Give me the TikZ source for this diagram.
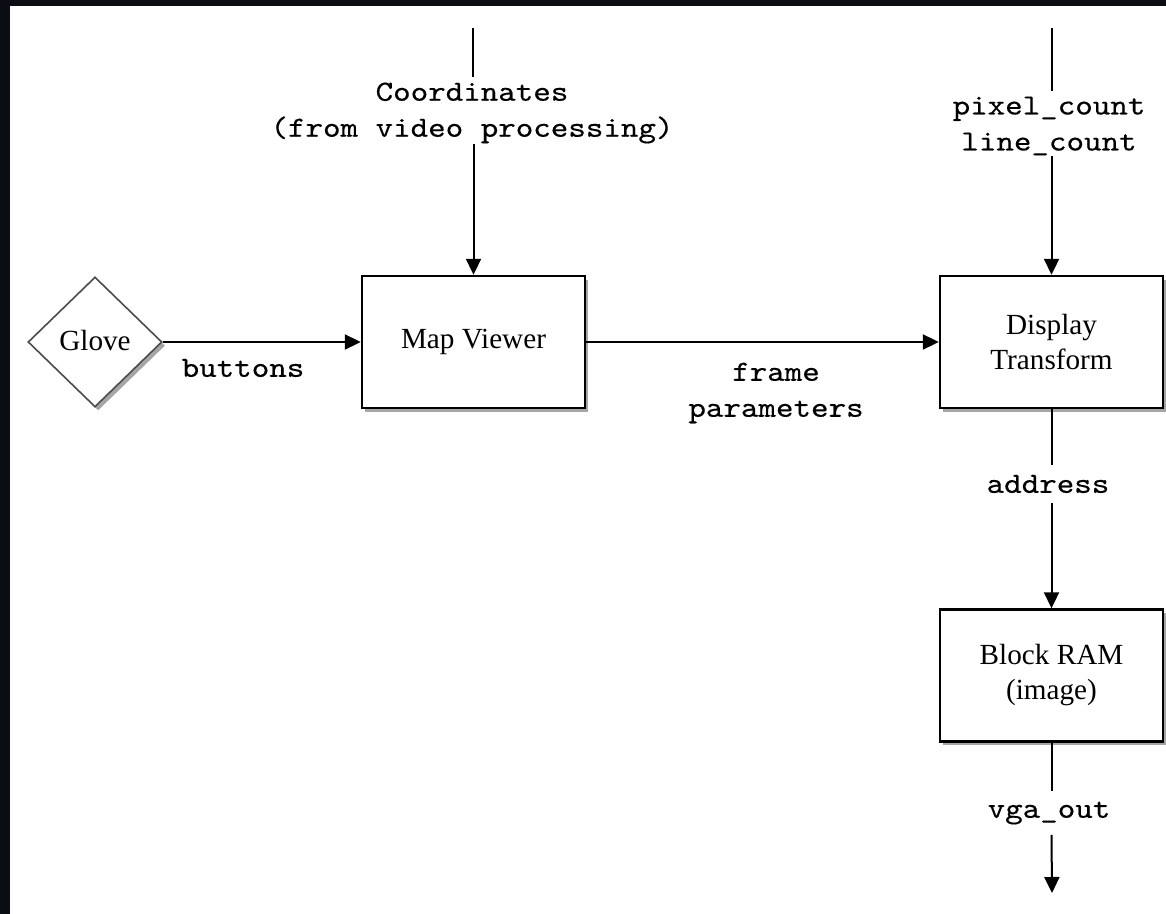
\documentclass[tikz,border=0pt]{standalone}
\usepackage{fontspec}
\setmainfont{Liberation Serif}
\newfontfamily\dgmono{lmmono10-regular.otf}[FakeStretch=1.143,FakeBold=0.4]
\usetikzlibrary{arrows.meta,shapes.geometric,shadows}
\definecolor{edgeframe}{RGB}{10,14,20}
\newcommand{\dgboxfont}{\fontsize{14.6}{17.5}\selectfont}
\newcommand{\dglblfont}{\dgmono\fontsize{14.6}{18}\selectfont}
\begin{document}
\begin{tikzpicture}[x=0.5pt,y=-0.5pt,
  softshadow/.style={drop shadow={shadow xshift=1.6pt,shadow yshift=-1.8pt,opacity=0.35,fill=black}},
  box/.style={draw=black,line width=1.2pt,fill=white,minimum width=111.5pt,minimum height=66pt,
    align=center,font=\dgboxfont,softshadow},
  lbl/.style={font=\dglblfont,align=center,inner sep=5pt},
  conn/.style={line width=1pt,draw=black},
  arr/.style={conn,-{Triangle[length=8pt,width=7.5pt]}}]
\fill[edgeframe] (0,0) rectangle (1166,914);
\fill[white] (10,6) rectangle (1166,914);
\useasboundingbox (0,0) rectangle (1166,914);

\node[diamond,draw=black!70,line width=0.8pt,fill=white,minimum width=67pt,minimum height=65pt,
  inner sep=0pt,font=\dgboxfont,softshadow] (glove) at (95,342) {\raisebox{2pt}{Glove}};
\node[box] (map) at (473.5,342) {Map Viewer};
\node[box] (disp) at (1051.5,342) {Display\\Transform};
\node[box] (bram) at (1051.5,675.5) {Block RAM\\(image)};

\node[lbl,inner sep=2.5pt] (coord) at (472,113) {Coordinates\\(from video processing)};
\node[lbl,inner sep=2.5pt] (pix) at (1049,126) {pixel\_count\\line\_count};
\node[lbl] (addr) at (1048,484) {address};
\node[lbl] (vga) at (1049,813) {vga\_out};
\node[lbl,inner sep=0pt] (btn) at (243,368) {buttons};
\node[lbl,inner sep=0pt] (frm) at (776,393) {frame\\parameters};

\coordinate (ctop) at (473,28);
\coordinate (ptop) at (1052,28);
\coordinate (vend) at (1052,893);

\draw[conn] (ctop) -- (ctop |- coord.north);
\draw[arr] ([yshift=2.5pt]map.north |- coord.south) -- (map.north);
\draw[conn] (ptop) -- (ptop |- pix.north);
\draw[arr] ([yshift=2.5pt]disp.north |- pix.south) -- (disp.north);
\draw[conn] (disp.south) -- (disp.south |- addr.north);
\draw[arr] (disp.south |- addr.south) -- (bram.north);
\draw[conn] (bram.south) -- (bram.south |- vga.north);
\draw[arr] (bram.south |- vga.south) -- (vend);
\draw[arr] (glove.east) -- (map.west);
\draw[arr] (map.east) -- (disp.west);
\end{tikzpicture}
\end{document}
